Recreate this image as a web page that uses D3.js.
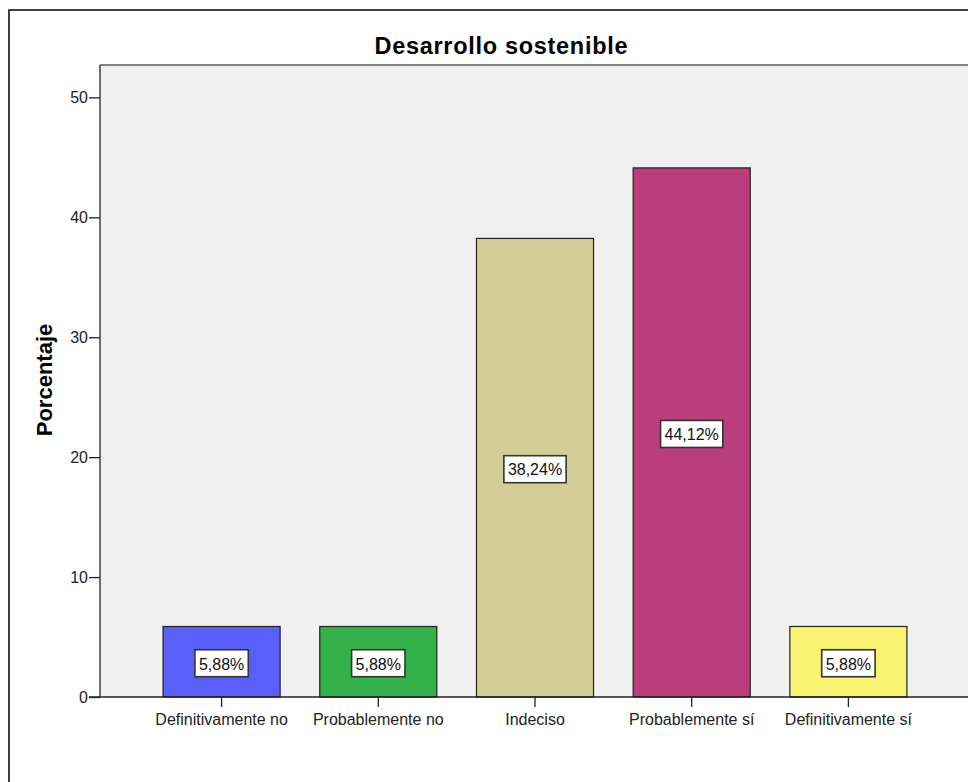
<!DOCTYPE html>
<html><head><meta charset="utf-8">
<script src="https://cdn.jsdelivr.net/npm/d3@7"></script>
<style>body{margin:0;background:#fff}svg{display:block}</style>
</head><body>
<svg id="c" width="968" height="782"></svg>
<script>
const categories = ["Definitivamente no","Probablemente no","Indeciso","Probablemente sí","Definitivamente sí"];
const values = [5.88, 5.88, 38.24, 44.12, 5.88];
const labels = ["5,88%","5,88%","38,24%","44,12%","5,88%"];
const colors = ["#5a5ffb","#33b24a","#d3ce98","#b93e7b","#f8f471"];
const yTicks = [0,10,20,30,40,50];
const title = "Desarrollo sostenible";
const yTitle = "Porcentaje";

const svg = d3.select("#c");
const font = "Arial, 'Liberation Sans', sans-serif";
const L = 100, R = 970, T = 65, B = 697;

// outer frame
svg.append("rect").attr("x",9).attr("y",10).attr("width",1000).attr("height",800)
  .attr("fill","#fff").attr("stroke","#111").attr("stroke-width",1.6);

const x = d3.scaleBand().domain(categories).range([L,R]).paddingInner(0.253).paddingOuter(0.4025);
const y = d3.scaleLinear().domain([0,52.7]).range([B,T]);

svg.append("rect").attr("x",L).attr("y",T).attr("width",R-L+20).attr("height",B-T).attr("fill","#f0f0f0");
svg.append("line").attr("x1",L).attr("x2",R+20).attr("y1",T).attr("y2",T).attr("stroke","#808080").attr("stroke-width",2);

svg.append("text").attr("x",501).attr("y",54).attr("text-anchor","middle")
  .attr("font-family",font).attr("font-weight","bold").attr("font-size",23.5)
  .attr("textLength",253).attr("lengthAdjust","spacing").attr("fill","#000").text(title);

svg.append("text").attr("transform","translate(52,380) rotate(-90)").attr("text-anchor","middle")
  .attr("font-family",font).attr("font-weight","bold").attr("font-size",22).attr("fill","#000").text(yTitle);

// bars
svg.selectAll("rect.bar").data(values).join("rect").attr("class","bar")
  .attr("x",(d,i)=>x(categories[i])).attr("width",x.bandwidth())
  .attr("y",d=>y(d)).attr("height",d=>y(0)-y(d))
  .attr("fill",(d,i)=>colors[i]).attr("stroke","#222").attr("stroke-width",1.2);

// y axis
const ya = svg.append("g").attr("transform",`translate(${L},0)`)
  .call(d3.axisLeft(y).tickValues(yTicks).tickSize(11).tickPadding(1).tickSizeOuter(0));
ya.select(".domain").remove();
ya.selectAll("line").attr("stroke","#222").attr("stroke-width",1.3);
ya.selectAll("text").attr("font-family",font).attr("font-size",16).attr("fill","#222");
svg.append("line").attr("x1",L).attr("x2",L).attr("y1",T).attr("y2",B).attr("stroke","#222").attr("stroke-width",1.3);

// x axis
const xa = svg.append("g").attr("transform",`translate(0,${B})`)
  .call(d3.axisBottom(x).tickSize(10).tickPadding(7).tickSizeOuter(0));
xa.select(".domain").remove();
xa.selectAll("line").attr("stroke","#222").attr("stroke-width",1.3);
xa.selectAll("text").attr("font-family",font).attr("font-size",16).attr("fill","#222");
svg.append("line").attr("x1",L-11).attr("x2",R+20).attr("y1",B).attr("y2",B).attr("stroke","#222").attr("stroke-width",1.3);

// value labels
const lg = svg.selectAll("g.lab").data(values).join("g").attr("class","lab")
  .attr("transform",(d,i)=>`translate(${x(categories[i])+x.bandwidth()/2},${(y(d)+y(0))/2+2})`);
lg.append("rect").attr("x",-27).attr("y",-14).attr("width",54).attr("height",27)
  .attr("fill","#fff").attr("stroke","#333").attr("stroke-width",1.6);
lg.append("text").attr("text-anchor","middle").attr("dy","0.36em")
  .attr("font-family",font).attr("font-size",16).attr("fill","#111").text((d,i)=>labels[i]);
lg.each(function(){
  const g=d3.select(this), t=g.select("text").node().getComputedTextLength();
  g.select("rect").attr("x",-t/2-4).attr("width",t+8);
});
</script>
</body></html>
